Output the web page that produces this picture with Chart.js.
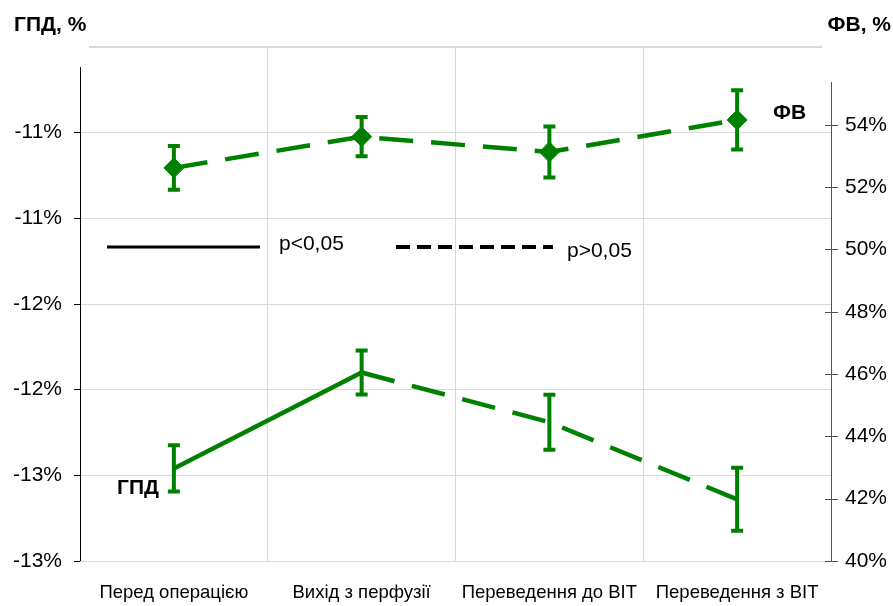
<!DOCTYPE html>
<html>
<head>
<meta charset="utf-8">
<script src="https://cdn.jsdelivr.net/npm/chart.js@4.4.1/dist/chart.umd.min.js"></script>
<style>
html,body{margin:0;padding:0;background:#fff;}
#wrap{width:893px;height:606px;position:relative;}
</style>
</head>
<body>
<div id="wrap"><canvas id="c" width="893" height="606"></canvas></div>
<script>
const categories = ['Перед операцією', 'Вихід з перфузії', 'Переведення до ВІТ', 'Переведення з ВІТ'];
const gpdValues = [-12.46, -11.90, -12.19, -12.64];
const gpdErrors = [0.135, 0.128, 0.16, 0.184];
const fvValues = [52.62, 53.62, 53.13, 54.16];
const fvErrors = [0.70, 0.63, 0.82, 0.95];
const leftTickLabels = ['-13%', '-13%', '-12%', '-12%', '-11%', '-11%'];
const rightTickLabels = ['40%', '42%', '44%', '46%', '48%', '50%', '52%', '54%'];
const legendLabels = ['p<0,05', 'p>0,05'];
const seriesLabels = ['ГПД', 'ФВ'];
const axisTitles = ['ГПД, %', 'ФВ, %'];

const GREEN = '#008000';
const FONT = '"Liberation Sans", Arial, sans-serif';
const DASH = [34, 18];

const extras = {
  id: 'extras',
  beforeDatasetsDraw(chart) {
    const {ctx, chartArea: a} = chart;
    ctx.save();
    ctx.strokeStyle = '#d9d9d9';
    ctx.lineWidth = 2;
    ctx.beginPath();
    ctx.moveTo(a.left + 9, a.top);
    ctx.lineTo(a.right - 9, a.top);
    ctx.stroke();
    ctx.strokeStyle = '#000';
    ctx.lineWidth = 1;
    ctx.beginPath();
    ctx.moveTo(a.left + 0.5, a.top + 20);
    ctx.lineTo(a.left + 0.5, a.bottom);
    ctx.stroke();
    ctx.strokeStyle = '#555';
    ctx.beginPath();
    ctx.moveTo(a.right + 0.5, a.top + 35);
    ctx.lineTo(a.right + 0.5, a.bottom);
    ctx.stroke();
    const yR = chart.scales.yR;
    yR.ticks.forEach(t => {
      const py = Math.round(yR.getPixelForValue(t.value)) + 0.5;
      ctx.beginPath();
      ctx.moveTo(a.right - 6, py);
      ctx.lineTo(a.right + 7, py);
      ctx.stroke();
    });
    ctx.restore();
  },
  afterDatasetsDraw(chart) {
    const {ctx} = chart;
    ctx.save();
    const drawErr = (dsIndex, vals, errs, axis) => {
      const meta = chart.getDatasetMeta(dsIndex);
      const sc = chart.scales[axis];
      ctx.strokeStyle = GREEN;
      ctx.lineWidth = 4;
      meta.data.forEach((pt, i) => {
        const x = pt.x;
        const yT = sc.getPixelForValue(vals[i] + errs[i]);
        const yB = sc.getPixelForValue(vals[i] - errs[i]);
        ctx.beginPath();
        ctx.moveTo(x, yT); ctx.lineTo(x, yB);
        ctx.moveTo(x - 6, yT); ctx.lineTo(x + 6, yT);
        ctx.moveTo(x - 6, yB); ctx.lineTo(x + 6, yB);
        ctx.stroke();
      });
    };
    drawErr(0, gpdValues, gpdErrors, 'yL');
    drawErr(1, fvValues, fvErrors, 'yR');

    ctx.fillStyle = '#000';
    ctx.font = 'bold 21px ' + FONT;
    ctx.textBaseline = 'middle';
    ctx.textAlign = 'left';
    ctx.fillText(axisTitles[0], 14, 25);
    ctx.textAlign = 'right';
    ctx.fillText(axisTitles[1], 891, 25);
    ctx.textAlign = 'left';
    ctx.fillText(seriesLabels[1], 773, 113);
    ctx.fillText(seriesLabels[0], 117, 488);

    ctx.strokeStyle = '#000';
    ctx.lineWidth = 3;
    ctx.beginPath();
    ctx.moveTo(107, 247); ctx.lineTo(260, 247);
    ctx.stroke();
    ctx.lineWidth = 4;
    ctx.setLineDash([14, 7]);
    ctx.beginPath();
    ctx.moveTo(396, 247); ctx.lineTo(553, 247);
    ctx.stroke();
    ctx.setLineDash([]);
    ctx.font = '21px ' + FONT;
    ctx.fillText(legendLabels[0], 279, 244);
    ctx.fillText(legendLabels[1], 567, 251);
    ctx.restore();
  }
};

new Chart(document.getElementById('c'), {
  type: 'line',
  data: {
    labels: categories,
    datasets: [
      {
        label: seriesLabels[0],
        data: gpdValues,
        yAxisID: 'yL',
        borderColor: GREEN,
        backgroundColor: GREEN,
        borderWidth: 4.5,
        pointRadius: 0,
        tension: 0,
        fill: false,
        segment: {
          borderDash: ctx => ctx.p0DataIndex === 0 ? [] : DASH
        }
      },
      {
        label: seriesLabels[1],
        data: fvValues,
        yAxisID: 'yR',
        borderColor: GREEN,
        backgroundColor: GREEN,
        borderWidth: 4.5,
        borderDash: DASH,
        pointStyle: 'rectRot',
        pointRadius: 10,
        pointBorderWidth: 1,
        pointBackgroundColor: GREEN,
        pointBorderColor: GREEN,
        tension: 0,
        fill: false
      }
    ]
  },
  options: {
    responsive: false,
    animation: false,
    layout: {padding: {top: 47, left: 0, right: 0, bottom: 0}},
    plugins: {legend: {display: false}, tooltip: {enabled: false}},
    scales: {
      x: {
        offset: true,
        grid: {
          offset: true,
          drawTicks: false,
          lineWidth: 1,
          color: ctx => (ctx.type !== 'tick' || ctx.index === 0) ? 'rgba(0,0,0,0)' : '#d9d9d9'
        },
        border: {display: false},
        ticks: {color: '#000', font: {family: FONT, size: 18.5}, padding: 21, maxRotation: 0},
        afterFit: s => { s.height = 45; }
      },
      yL: {
        position: 'left',
        min: -13, max: -10,
        ticks: {
          stepSize: 0.5,
          color: '#000',
          font: {family: FONT, size: 21},
          padding: 12,
          callback: (v, i) => leftTickLabels[i]
        },
        afterBuildTicks: s => { s.ticks = s.ticks.filter(t => t.value <= -10.4); },
        grid: {color: '#d9d9d9', lineWidth: 1, tickLength: 6, tickColor: '#000'},
        border: {display: false},
        afterFit: s => { s.width = 80; }
      },
      yR: {
        position: 'right',
        min: 40, max: 56.5,
        ticks: {
          stepSize: 2,
          color: '#000',
          font: {family: FONT, size: 21},
          padding: 14,
          callback: (v, i) => rightTickLabels[i]
        },
        afterBuildTicks: s => { s.ticks = s.ticks.filter(t => t.value <= 54.1); },
        grid: {drawOnChartArea: false, drawTicks: false, tickLength: 7},
        border: {display: false},
        afterFit: s => { s.width = 62; }
      }
    }
  },
  plugins: [extras]
});
</script>
</body>
</html>
